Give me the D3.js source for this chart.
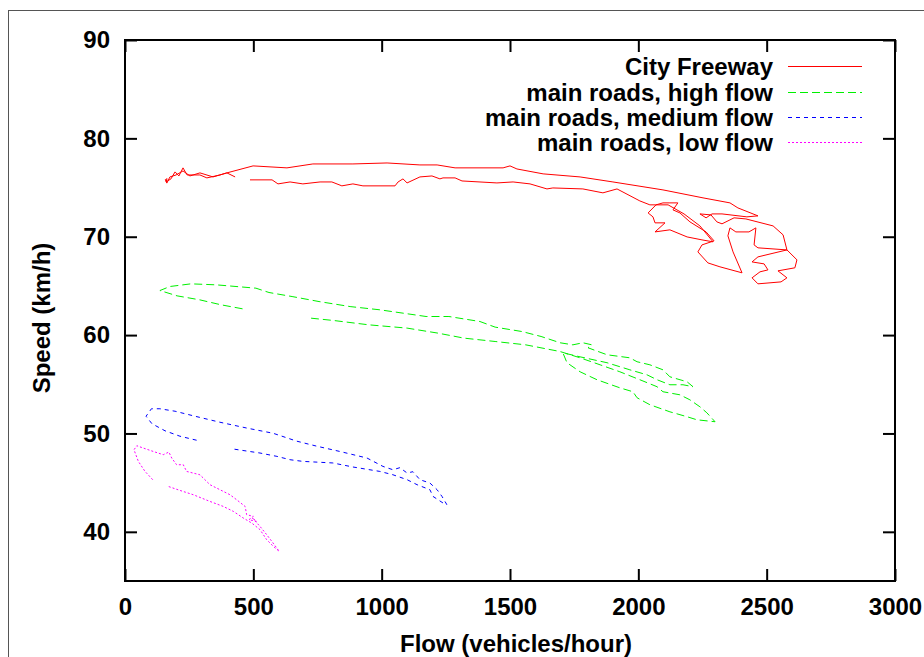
<!DOCTYPE html>
<html>
<head>
<meta charset="utf-8">
<script src="https://cdn.jsdelivr.net/npm/d3@7"></script>
<style>
  body { margin: 0; background: #fff; }
  svg text { font-family: "Liberation Sans", Arial, sans-serif; font-weight: bold; fill: #000; }
</style>
</head>
<body>
<div id="chart"></div>
<script>
// Axis ticks
const xTicks = [0, 500, 1000, 1500, 2000, 2500, 3000];
const yTicks = [40, 50, 60, 70, 80, 90];

// Series: [flow (vehicles/hour), speed (km/h)]
const cityFreeway = [
  [429, 76.08], [397, 76.49], [370, 76.28], [319, 75.98], [292, 76.28], [242, 76.28],
  [226, 77.00], [210, 76.18], [195, 76.59], [179, 75.88], [160, 75.57], [164, 75.9],
  [157, 75.8], [163, 75.45], [175, 76.08], [199, 76.28], [226, 76.69], [253, 76.18],
  [292, 76.49], [343, 76.08], [397, 76.49], [499, 77.20], [631, 77.00], [732, 77.40],
  [888, 77.40], [1021, 77.50], [1149, 77.30], [1216, 77.30], [1286, 77.00], [1473, 77.00],
  [1500, 77.20], [1527, 76.89], [1629, 76.39], [1773, 76.08], [1901, 75.57], [2096, 74.76],
  [2252, 73.95], [2357, 73.44], [2388, 72.93], [2466, 72.12],
  [2423, 72.02], [2326, 72.32], [2287, 72.32], [2264, 71.92], [2240, 72.32], [2283, 72.22],
  [2306, 71.51], [2326, 71.31], [2373, 71.92], [2419, 71.81], [2525, 71.10], [2564, 70.19],
  [2579, 68.66], [2618, 67.65], [2610, 66.84], [2544, 66.53], [2579, 65.82], [2556, 65.41],
  [2466, 65.21], [2443, 65.82], [2474, 66.43], [2505, 66.63], [2490, 67.24], [2443, 67.44],
  [2466, 67.95], [2579, 68.66], [2466, 68.87], [2451, 69.17], [2458, 70.90], [2431, 70.49],
  [2380, 70.49], [2357, 70.90], [2349, 70.09], [2369, 68.46], [2404, 66.33], [2318, 66.94],
  [2271, 67.34], [2232, 68.46], [2248, 69.17], [2295, 69.58], [2264, 70.49], [2201, 71.51],
  [2162, 72.42], [2135, 72.73], [2154, 73.44], [2123, 73.44], [2096, 73.44], [2069, 73.24],
  [2038, 72.42], [2057, 72.02], [2065, 71.41], [2104, 71.41], [2065, 70.49], [2123, 70.70],
  [2190, 69.98], [2248, 69.68], [2291, 69.48], [2240, 71.10], [2178, 72.32], [2116, 73.24],
  [2045, 73.24],
  [2006, 73.64], [1917, 74.86], [1862, 74.46], [1784, 74.86], [1667, 74.96], [1644, 74.86],
  [1578, 75.37], [1512, 75.57], [1449, 75.47], [1313, 75.67], [1286, 75.98], [1239, 75.98],
  [1227, 75.88], [1196, 76.18], [1149, 76.08], [1099, 75.47], [1083, 75.88], [1064, 75.57],
  [1052, 75.17], [927, 75.17], [888, 75.37], [845, 75.17], [806, 75.57], [760, 75.57],
  [693, 75.37], [643, 75.57], [596, 75.37], [573, 75.78], [487, 75.78]
];

const highFlow = [
  [458, 62.67], [374, 63.08], [292, 63.58], [203, 63.99], [136, 64.53], [175, 64.94],
  [257, 65.21], [355, 65.11], [510, 64.77], [561, 64.33], [651, 63.92], [756, 63.41],
  [877, 62.90], [993, 62.57], [1083, 62.23], [1173, 61.89], [1262, 61.89], [1383, 61.38],
  [1442, 60.81], [1547, 60.36], [1621, 59.86], [1695, 59.22], [1745, 59.01], [1784, 59.22],
  [1819, 59.01], [1804, 58.71], [1878, 58.00], [1967, 57.69], [1995, 57.29], [2045, 56.98],
  [2096, 56.47], [2123, 55.76], [2190, 55.25], [2213, 54.75], [2174, 54.95], [2123, 54.95],
  [2073, 55.46], [2034, 55.96], [1967, 56.47], [1878, 57.19], [1773, 57.79], [1706, 58.20],
  [1722, 57.19], [1773, 56.27], [1839, 55.46], [1928, 54.64], [1979, 54.24], [1995, 53.63],
  [2045, 52.92], [2123, 52.20], [2190, 51.70], [2228, 51.39], [2299, 51.19], [2267, 52.10],
  [2240, 52.71], [2201, 53.42], [2162, 53.93], [2096, 54.24], [2073, 54.75], [2006, 55.46],
  [1928, 56.27], [1851, 56.98], [1773, 57.69], [1695, 58.33], [1561, 59.01], [1442, 59.35],
  [1321, 59.69], [1219, 60.20], [1099, 60.71], [951, 61.04], [814, 61.48], [725, 61.72]
];

const mediumFlow = [
  [279, 49.31], [214, 49.72], [156, 50.27], [105, 50.99], [82, 51.75], [103, 52.51],
  [136, 52.51], [195, 52.26], [273, 51.75], [370, 51.14], [474, 50.55], [577, 50.02],
  [670, 49.21], [748, 48.70], [837, 48.17], [943, 47.50], [1005, 46.65], [1044, 46.31],
  [1071, 46.52], [1099, 45.98], [1122, 46.11], [1149, 45.30], [1188, 44.96], [1216, 44.28],
  [1235, 43.60], [1254, 42.76], [1239, 42.93], [1200, 43.60], [1188, 44.28], [1138, 44.79],
  [1099, 45.30], [1044, 45.80], [993, 46.14], [888, 46.59], [810, 47.00], [693, 47.16],
  [643, 47.33], [592, 47.67], [526, 48.01], [421, 48.42]
];

const lowFlow = [
  [108, 45.30], [78, 46.14], [52, 47.16], [35, 48.34], [46, 48.75], [71, 48.52],
  [110, 48.17], [149, 47.84], [171, 48.11], [182, 47.50], [201, 46.82], [227, 46.82],
  [240, 46.14], [292, 45.80], [331, 44.79], [370, 44.28], [409, 43.77], [435, 43.26],
  [468, 42.58], [474, 41.74], [500, 41.57], [483, 41.23], [513, 41.06], [495, 41.43],
  [526, 40.55], [552, 39.71], [572, 39.03], [591, 38.36], [601, 38.01], [578, 38.52],
  [552, 39.20], [526, 40.22], [494, 40.89], [461, 41.40], [422, 42.08], [383, 42.58],
  [331, 43.09], [266, 43.77], [214, 44.21], [169, 44.61]
];

const seriesNames = ["City Freeway", "main roads, high flow", "main roads, medium flow", "main roads, low flow"];
const seriesData = [cityFreeway, highFlow, mediumFlow, lowFlow];
const seriesColors = ["#ff0000", "#00f000", "#0000ff", "#ff00ff"];
const seriesDash = [null, "8,4", "4,4", "2,2"];

const width = 924, height = 657;
const plot = { left: 125, right: 895, top: 40, bottom: 581 };

const svg = d3.select("#chart")
  .append("svg")
  .attr("width", width)
  .attr("height", height);

// outer frame of the original image
svg.append("rect")
  .attr("x", 8.5).attr("y", 10.5)
  .attr("width", 940).attr("height", 680)
  .attr("fill", "none")
  .attr("stroke", "#555")
  .attr("stroke-width", 1);

const x = d3.scaleLinear().domain([0, 3000]).range([plot.left, plot.right]);
const y = d3.scaleLinear().domain([35, 90]).range([plot.bottom, plot.top]);

// axes with inward ticks (gnuplot style)
svg.append("g")
  .attr("transform", `translate(0,${plot.bottom})`)
  .call(d3.axisBottom(x).tickValues(xTicks).tickFormat(d3.format("d"))
    .tickSizeInner(-12).tickSizeOuter(0).tickPadding(17));

svg.append("g")
  .attr("transform", `translate(0,${plot.top})`)
  .call(d3.axisTop(x).tickValues(xTicks).tickSizeInner(-12).tickSizeOuter(0).tickFormat(""));

svg.append("g")
  .attr("transform", `translate(${plot.left},0)`)
  .call(d3.axisLeft(y).tickValues(yTicks).tickFormat(d3.format("d"))
    .tickSizeInner(-12).tickSizeOuter(0).tickPadding(15));

svg.append("g")
  .attr("transform", `translate(${plot.right},0)`)
  .call(d3.axisRight(y).tickValues(yTicks).tickSizeInner(-12).tickSizeOuter(0).tickFormat(""));

svg.selectAll(".domain").remove();
svg.selectAll(".tick line").attr("stroke", "#000").attr("stroke-width", 2);
svg.selectAll(".tick text")
  .style("font-size", "24px")
  .style("font-family", "'Liberation Sans', Arial, sans-serif")
  .style("font-weight", "bold");

// plot border
svg.append("rect")
  .attr("x", plot.left).attr("y", plot.top)
  .attr("width", plot.right - plot.left)
  .attr("height", plot.bottom - plot.top)
  .attr("fill", "none")
  .attr("stroke", "#000")
  .attr("stroke-width", 2);

// axis titles
svg.append("text")
  .attr("x", 516).attr("y", 652)
  .attr("text-anchor", "middle")
  .style("font-size", "24px")
  .text("Flow (vehicles/hour)");

svg.append("text")
  .attr("transform", "translate(50,318) rotate(-90)")
  .attr("text-anchor", "middle")
  .style("font-size", "24px")
  .text("Speed (km/h)");

// series lines
const line = d3.line()
  .x(d => x(d[0]))
  .y(d => y(d[1]));

seriesData.forEach((data, i) => {
  svg.append("path")
    .datum(data)
    .attr("d", line)
    .attr("fill", "none")
    .attr("stroke", seriesColors[i])
    .attr("stroke-width", 1)
    .attr("stroke-dasharray", seriesDash[i]);
});

// legend
const legend = svg.append("g");
const legendRows = [66, 92, 117, 142];
seriesNames.forEach((name, i) => {
  const ly = legendRows[i];
  legend.append("text")
    .attr("x", 773).attr("y", ly + 9)
    .attr("text-anchor", "end")
    .style("font-size", "24px")
    .text(name);
  legend.append("line")
    .attr("x1", 788).attr("x2", 862)
    .attr("y1", ly + 0.5).attr("y2", ly + 0.5)
    .attr("stroke", seriesColors[i])
    .attr("stroke-width", 1)
    .attr("stroke-dasharray", seriesDash[i]);
});
</script>
</body>
</html>
